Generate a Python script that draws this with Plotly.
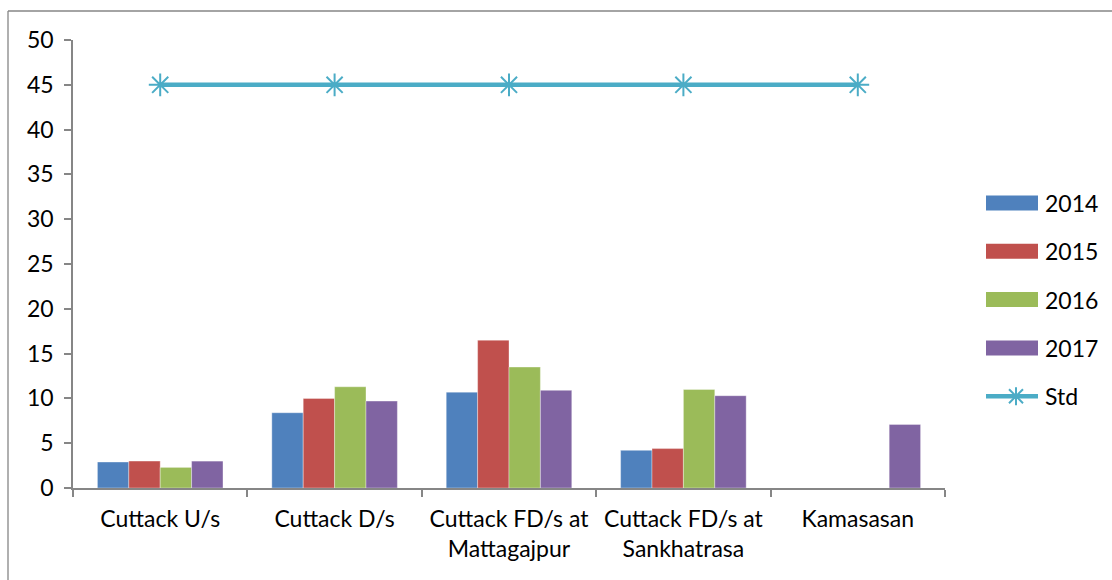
import plotly.graph_objects as go

# Monitoring stations along the river
stations = [
    "Cuttack U/s",
    "Cuttack D/s",
    "Cuttack FD/s at<br>Mattagajpur",
    "Cuttack FD/s at<br>Sankhatrasa",
    "Kamasasan",
]

# Yearly observed values per station (None = not sampled)
v2014 = [2.9, 8.4, 10.7, 4.2, None]
v2015 = [3.0, 10.0, 16.5, 4.4, None]
v2016 = [2.3, 11.3, 13.5, 11.0, None]
v2017 = [3.0, 9.7, 10.9, 10.3, 7.1]

# Permissible standard
std = [45, 45, 45, 45, 45]

years = ["2014", "2015", "2016", "2017"]
year_values = [v2014, v2015, v2016, v2017]
year_colors = ["#4F81BD", "#C0504D", "#9BBB59", "#8064A2"]
STD_COLOR = "#4BACC6"

W, H = 1112, 580
ML, MR, MT, MB = 73, 167, 40, 92
FONT = "Lato, 'Open Sans', sans-serif"
AXIS_GREY = "#868686"
FS = 23

fig = go.Figure()

for name, vals, col in zip(years, year_values, year_colors):
    fig.add_trace(go.Bar(
        x=stations, y=vals, name=name,
        marker=dict(color=col, line=dict(color="rgba(255,255,255,0.6)", width=0.6)),
    ))

fig.add_trace(go.Scatter(
    x=stations, y=std, name="Std", mode="lines+markers",
    line=dict(color=STD_COLOR, width=4.5),
    marker=dict(symbol="asterisk-open", size=19, color=STD_COLOR,
                line=dict(color=STD_COLOR, width=2)),
))

# Pixel -> paper coordinate helpers
pw = W - ML - MR
ph = H - MT - MB
def px_x(px):
    return (px - ML) / pw
def px_y(py):
    return (H - MB - py) / ph

# Outer chart frame (left and top edges)
fig.add_shape(type="line", xref="paper", yref="paper",
              x0=px_x(8), x1=px_x(W + 5), y0=px_y(11), y1=px_y(11),
              line=dict(color=AXIS_GREY, width=1.3))
fig.add_shape(type="line", xref="paper", yref="paper",
              x0=px_x(8), x1=px_x(8), y0=px_y(11), y1=px_y(H + 5),
              line=dict(color=AXIS_GREY, width=1.3))

# Legend: wide colour keys with labels on the right
LEG_X0, LEG_X1, LEG_TX = 986, 1038, 1043
LEG_Y0, LEG_STEP = 203, 48.3
for i, (name, col) in enumerate(zip(years, year_colors)):
    cy = LEG_Y0 + i * LEG_STEP
    fig.add_shape(type="rect", xref="paper", yref="paper",
                  x0=px_x(LEG_X0), x1=px_x(LEG_X1),
                  y0=px_y(cy - 7.5), y1=px_y(cy + 7.5),
                  fillcolor=col, line=dict(width=0))
    fig.add_annotation(xref="paper", yref="paper", x=px_x(LEG_TX), y=px_y(cy),
                       text=name, showarrow=False, xanchor="left", yanchor="middle",
                       font=dict(size=FS, family=FONT, color="#000000"))

cy = LEG_Y0 + 4 * LEG_STEP
fig.add_shape(type="line", xref="paper", yref="paper",
              x0=px_x(986), x1=px_x(1038), y0=px_y(cy), y1=px_y(cy),
              line=dict(color=STD_COLOR, width=4.5))
# asterisk key (vertical + two diagonals), drawn in pixel units around its centre
fig.add_shape(type="path", xref="paper", yref="paper",
              xsizemode="pixel", ysizemode="pixel",
              xanchor=px_x(1016), yanchor=px_y(cy),
              path="M 0,-9 L 0,9 M -7,-7 L 7,7 M -7,7 L 7,-7 M -9,0 L 9,0",
              line=dict(color=STD_COLOR, width=2))
fig.add_annotation(xref="paper", yref="paper", x=px_x(LEG_TX), y=px_y(cy),
                   text="Std", showarrow=False, xanchor="left", yanchor="middle",
                   font=dict(size=FS, family=FONT, color="#000000"))

fig.update_layout(
    width=W, height=H,
    margin=dict(l=ML, r=MR, t=MT, b=MB, autoexpand=False),
    paper_bgcolor="white", plot_bgcolor="white",
    barmode="group", bargap=0.28, bargroupgap=0,
    font=dict(family=FONT, size=FS, color="#000000"),
    showlegend=False,
    xaxis=dict(
        showline=True, linecolor=AXIS_GREY, linewidth=1.5,
        ticks="outside", tickson="boundaries", ticklen=7,
        tickcolor=AXIS_GREY, tickwidth=1.5,
        showgrid=False, zeroline=False,
        tickfont=dict(size=FS), tickangle=0, automargin=False,
        ticklabelstandoff=10,
    ),
    yaxis=dict(
        range=[0, 50], dtick=5,
        showline=True, linecolor=AXIS_GREY, linewidth=1.5,
        ticks="outside", ticklen=7, tickcolor=AXIS_GREY, tickwidth=1.5,
        showgrid=False, zeroline=False,
        tickfont=dict(size=FS), automargin=False,
        ticklabelstandoff=6,
    ),
)

fig.write_html("out.html")
